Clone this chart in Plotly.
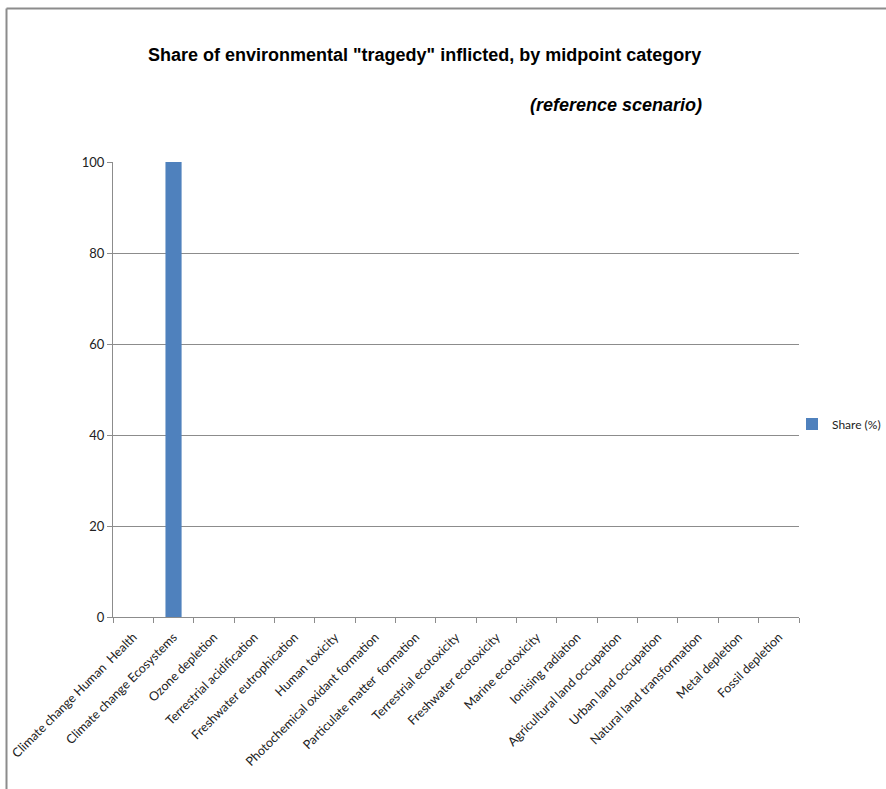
import plotly.graph_objects as go

categories = [
    "Climate change Human  Health",
    "Climate change Ecosystems",
    "Ozone depletion",
    "Terrestrial acidification",
    "Freshwater eutrophication",
    "Human toxicity",
    "Photochemical oxidant formation",
    "Particulate matter  formation",
    "Terrestrial ecotoxicity",
    "Freshwater ecotoxicity",
    "Marine ecotoxicity",
    "Ionising radiation",
    "Agricultural land occupation",
    "Urban land occupation",
    "Natural land transformation",
    "Metal depletion",
    "Fossil depletion",
]
share_pct = [0, 100, 0, 0, 0, 0, 0, 0, 0, 0, 0, 0, 0, 0, 0, 0, 0]
y_ticks = [0, 20, 40, 60, 80, 100]

W, H = 886, 789
L, R, T, B = 113, 87, 162, 172
pw, ph = W - L - R, H - T - B

def px_x(x):
    return (x - L) / pw

def px_y(y):
    return (H - B - y) / ph

label_font = dict(family="Lato, Open Sans, sans-serif", size=12.5, color="#222")

fig = go.Figure(
    go.Bar(
        x=categories,
        y=share_pct,
        name="Share (%)",
        marker=dict(color="#4f81bd", line=dict(width=0)),
        showlegend=True,
    )
)

fig.update_layout(
    width=W,
    height=H,
    margin=dict(l=L, r=R, t=T, b=B, autoexpand=False),
    paper_bgcolor="white",
    plot_bgcolor="white",
    bargap=0.6,
    font=label_font,
    legend=dict(
        x=px_x(792), y=px_y(424), xanchor="left", yanchor="middle",
        font=dict(family="Lato, Open Sans, sans-serif", size=12, color="#222"),
        itemwidth=30, bgcolor="rgba(0,0,0,0)",
    ),
    xaxis=dict(
        type="category",
        tickangle=-45,
        showgrid=False,
        showline=True, linecolor="#8c8c8c", linewidth=1,
        ticks="outside", ticklen=5, tickcolor="#8c8c8c",
        tickson="boundaries",
        ticklabelstandoff=7,
        tickfont=label_font,
    ),
    yaxis=dict(
        range=[0, 100],
        tickvals=y_ticks,
        showgrid=True, gridcolor="#8c8c8c", gridwidth=1,
        showline=True, linecolor="#8c8c8c", linewidth=1,
        ticks="outside", ticklen=5, tickcolor="#8c8c8c",
        tickfont=dict(family="Lato, Open Sans, sans-serif", size=13, color="#222"),
        zeroline=False,
    ),
    annotations=[
        dict(
            text='<b>Share of environmental "tragedy" inflicted, by midpoint category</b>',
            x=px_x(424), y=px_y(55), xref="paper", yref="paper",
            xanchor="center", yanchor="middle", showarrow=False,
            font=dict(family="Liberation Sans, Arial, sans-serif", size=18, color="black"),
        ),
        dict(
            text="<b><i>(reference scenario)</i></b>",
            x=px_x(704), y=px_y(105), xref="paper", yref="paper",
            xanchor="right", yanchor="middle", showarrow=False,
            font=dict(family="Liberation Sans, Arial, sans-serif", size=18, color="black"),
        ),
    ],
    shapes=[
        dict(type="line", xref="paper", yref="paper",
             x0=px_x(6.5), x1=px_x(W + 5), y0=px_y(8.5), y1=px_y(8.5),
             line=dict(color="#8c8c8c", width=2)),
        dict(type="line", xref="paper", yref="paper",
             x0=px_x(6.5), x1=px_x(6.5), y0=px_y(8.5), y1=px_y(H + 5),
             line=dict(color="#8c8c8c", width=2)),
    ],
)

fig.write_html("out.html")
